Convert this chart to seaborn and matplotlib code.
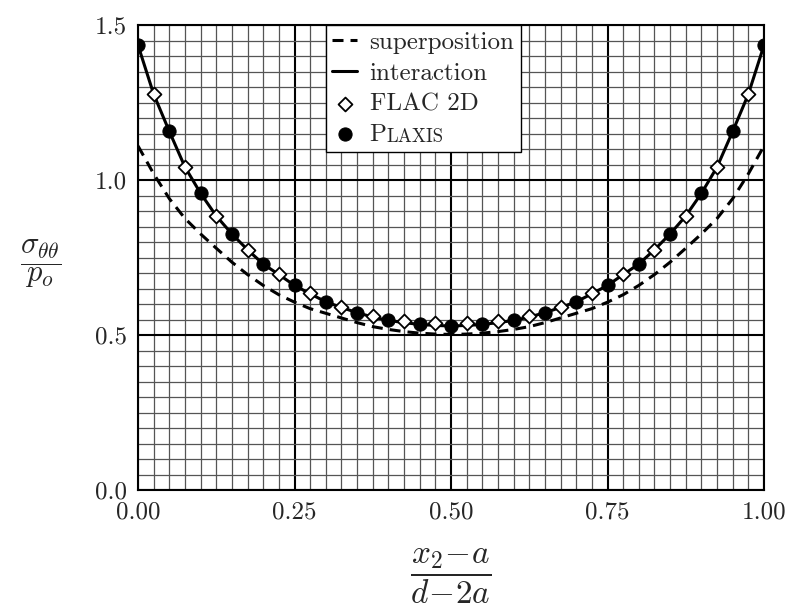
import numpy as np
import pandas as pd
import matplotlib.pyplot as plt
import matplotlib.ticker as mticker
import seaborn as sns

# Values (normalized position vs normalized stress)
x_curve = np.round(np.arange(0, 41) * 0.025, 4)

half_interaction = [1.435, 1.277, 1.157, 1.042, 0.957, 0.884, 0.826, 0.775, 0.729, 0.695,
                    0.660, 0.633, 0.607, 0.589, 0.572, 0.558, 0.547, 0.540, 0.534, 0.531, 0.529]
half_superposition = [1.110, 1.020, 0.940, 0.876, 0.826, 0.780, 0.735, 0.695, 0.660, 0.630,
                      0.606, 0.585, 0.570, 0.555, 0.540, 0.527, 0.518, 0.511, 0.506, 0.503, 0.502]
interaction = half_interaction + half_interaction[-2::-1]
superposition = half_superposition + half_superposition[-2::-1]

x_plaxis = np.round(np.arange(0, 21) * 0.05, 4)
half_plaxis = [1.435, 1.157, 0.957, 0.826, 0.729, 0.660, 0.607, 0.572, 0.547, 0.534, 0.529]
plaxis = half_plaxis + half_plaxis[-2::-1]

x_flac = np.round(0.025 + np.arange(0, 20) * 0.05, 4)
half_flac = [1.277, 1.042, 0.884, 0.775, 0.697, 0.635, 0.591, 0.561, 0.545, 0.538]
flac = half_flac + half_flac[::-1]

sns.set_style("white")
plt.rcParams["font.family"] = "serif"
plt.rcParams["font.serif"] = ["cmr10", "DejaVu Serif"]
plt.rcParams["mathtext.fontset"] = "cm"
plt.rcParams["axes.formatter.use_mathtext"] = True

fig = plt.figure(figsize=(7.9, 6.06), dpi=100)
ax = fig.add_axes([0.1747, 0.1914, 0.7924, 0.7673])

sns.lineplot(x=x_curve, y=superposition, ax=ax, color="black", lw=2.2,
             linestyle=(0, (3.6, 2.3)), label="superposition", zorder=3)
sns.lineplot(x=x_curve, y=interaction, ax=ax, color="black", lw=2.2,
             label="interaction", zorder=3)
sns.scatterplot(x=x_flac, y=flac, ax=ax, marker="D", s=50, facecolor="white",
                edgecolor="black", linewidth=1.3, label="FLAC 2D", zorder=4)
sns.scatterplot(x=x_plaxis, y=plaxis, ax=ax, marker="o", s=90, color="black",
                edgecolor="black", label="P", zorder=5)

ax.set_xlim(0, 1)
ax.set_ylim(0, 1.5)
ax.xaxis.set_major_locator(mticker.MultipleLocator(0.25))
ax.xaxis.set_minor_locator(mticker.MultipleLocator(0.025))
ax.yaxis.set_major_locator(mticker.MultipleLocator(0.5))
ax.yaxis.set_minor_locator(mticker.MultipleLocator(0.05))
ax.xaxis.set_major_formatter(mticker.FormatStrFormatter("%.2f"))
ax.yaxis.set_major_formatter(mticker.FormatStrFormatter("%.1f"))
ax.grid(which="minor", color="#555555", lw=0.9)
ax.grid(which="major", color="black", lw=1.5)
ax.set_axisbelow(True)
ax.tick_params(which="both", length=0, labelsize=18, pad=8)
for sp in ax.spines.values():
    sp.set_visible(True)
    sp.set_color("black")
    sp.set_linewidth(1.5)

ax.set_ylabel(r"$\dfrac{\sigma_{\theta\theta}}{p_o}$", fontsize=22, rotation=0,
              labelpad=0)
ax.yaxis.set_label_coords(-0.155, 0.43)
ax.set_xlabel(r"$\dfrac{x_2\!-\!a}{d\!-\!2a}$", fontsize=24)
ax.xaxis.set_label_coords(0.5, -0.122)
ax.xaxis.label.set_va("top")

handles, labels = ax.get_legend_handles_labels()
leg = ax.legend(handles, labels, loc="upper left", bbox_to_anchor=(0.30, 1.0),
                borderaxespad=0, fontsize=18, frameon=True, fancybox=False,
                handlelength=1.0, handletextpad=0.5, labelspacing=0.33,
                borderpad=0.25, scatterpoints=1)
leg.get_frame().set_edgecolor("black")
leg.get_frame().set_linewidth(1.0)
leg.get_frame().set_alpha(1)
plaxis_text = leg.get_texts()[-1]
ax.annotate("LAXIS", xy=(1, 0), xycoords=plaxis_text, fontsize=13.5,
            va="bottom", ha="left", zorder=10)

fig.savefig("out.png", dpi=100)
plt.close()
